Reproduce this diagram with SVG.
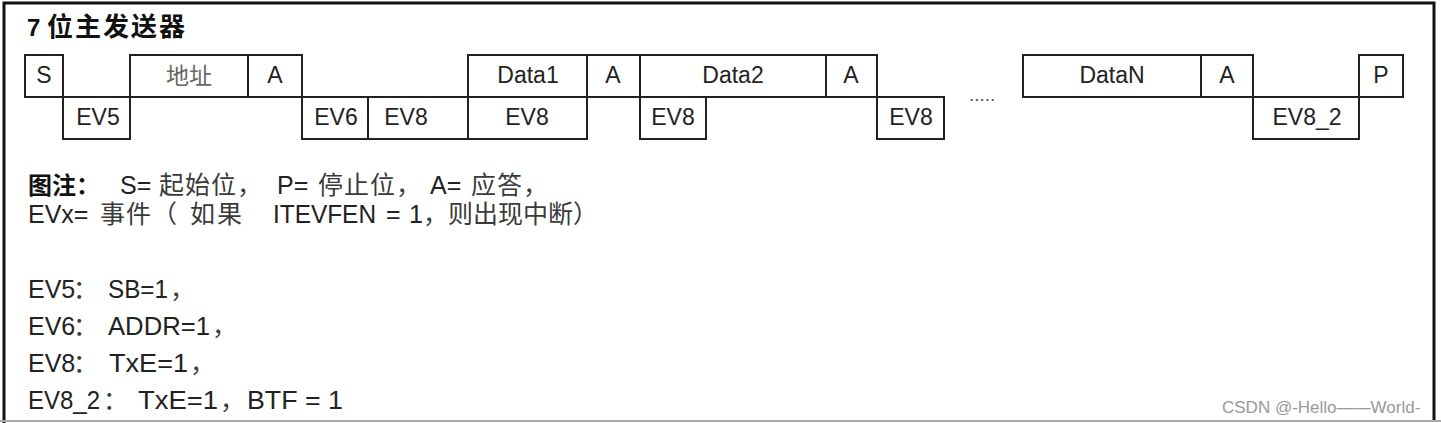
<svg xmlns="http://www.w3.org/2000/svg" width="1441" height="423" viewBox="0 0 1441 423">
<style>
.cell{fill:#fff;stroke:#222;stroke-width:2}
.t{font-family:"Liberation Sans",Arial,sans-serif;font-size:23px;fill:#222;text-anchor:middle}
.addr{font-family:"Liberation Sans","Noto Sans CJK SC",sans-serif;font-size:23px;fill:#666;text-anchor:middle}
.lg{font-family:"Liberation Sans",Arial,"Noto Sans CJK SC",sans-serif;font-size:25px;fill:#222}
.cj{font-family:"Liberation Sans","Noto Sans CJK SC",sans-serif;font-size:25px;fill:#3a3a3a}
</style>
<rect width="1441" height="423" fill="#fff"/>
<path d="M4,423 V3 H1434 V421" fill="none" stroke="#111" stroke-width="3"/>
<line x1="0" y1="421" x2="1441" y2="421" stroke="#aaa" stroke-width="2"/>
<text x="27" y="36" font-family="'Liberation Sans',Arial,'Noto Sans CJK SC',sans-serif" font-size="24" font-weight="bold" fill="#111">7 <tspan font-size="26" letter-spacing="2">位主发送器</tspan></text>

<g id="top-row">
<g id="n-S"><rect class="cell" x="25" y="55" width="38" height="42"/><text class="t" x="44" y="83">S</text></g>
<g id="n-addr"><rect class="cell" x="130" y="55" width="118" height="42"/><text class="addr" x="189" y="84">地址</text></g>
<g id="n-A1"><rect class="cell" x="248" y="55" width="54" height="42"/><text class="t" x="275" y="83">A</text></g>
<g id="n-data1"><rect class="cell" x="468" y="55" width="119" height="42"/><text class="t" x="528" y="83">Data1</text></g>
<g id="n-A2"><rect class="cell" x="587" y="55" width="53" height="42"/><text class="t" x="613" y="83">A</text></g>
<g id="n-data2"><rect class="cell" x="640" y="55" width="186" height="42"/><text class="t" x="733" y="83">Data2</text></g>
<g id="n-A3"><rect class="cell" x="826" y="55" width="51" height="42"/><text class="t" x="851" y="83">A</text></g>
<g id="n-dataN"><rect class="cell" x="1023" y="55" width="178" height="42"/><text class="t" x="1112" y="83">DataN</text></g>
<g id="n-A4"><rect class="cell" x="1201" y="55" width="52" height="42"/><text class="t" x="1227" y="83">A</text></g>
<g id="n-P"><rect class="cell" x="1359" y="55" width="44" height="42"/><text class="t" x="1381" y="83">P</text></g>
</g>
<g id="bottom-row">
<g id="n-ev5"><rect class="cell" x="63" y="97" width="67" height="42"/><text class="t" x="98" y="125">EV5</text></g>
<g id="n-ev6"><rect class="cell" x="302" y="97" width="66" height="42"/><text class="t" x="336" y="125">EV6</text></g>
<g id="n-ev8a"><rect class="cell" x="368" y="97" width="100" height="42"/><text class="t" x="406" y="125">EV8</text></g>
<g id="n-ev8b"><rect class="cell" x="468" y="97" width="119" height="42"/><text class="t" x="527" y="125">EV8</text></g>
<g id="n-ev8c"><rect class="cell" x="640" y="97" width="66" height="42"/><text class="t" x="673" y="125">EV8</text></g>
<g id="n-ev8d"><rect class="cell" x="877" y="97" width="67" height="42"/><text class="t" x="911" y="125">EV8</text></g>
<g id="n-ev82"><rect class="cell" x="1253" y="97" width="106" height="42"/><text class="t" x="1307" y="125">EV8_2</text></g>
</g>
<g id="connectors"></g>
<text x="969" y="101" font-family="'Liberation Sans',Arial,sans-serif" font-size="19" fill="#555">.....</text>

<g id="legend">
<text class="lg" y="194"><tspan x="28" font-weight="bold" font-size="24" fill="#111">图注：</tspan><tspan x="120">S=</tspan><tspan class="cj" x="159" letter-spacing="1">起始位，</tspan><tspan x="277">P=</tspan><tspan class="cj" x="318" letter-spacing="1">停止位，</tspan><tspan x="430">A=</tspan><tspan class="cj" x="471" letter-spacing="1">应答，</tspan></text>
<text class="lg" y="223"><tspan x="28">EVx=</tspan><tspan class="cj" x="100" letter-spacing="1">事件</tspan><tspan class="cj">（</tspan><tspan class="cj" x="190" letter-spacing="2">如果</tspan><tspan x="273" textLength="103" lengthAdjust="spacingAndGlyphs">ITEVFEN</tspan><tspan x="386">=</tspan><tspan x="409">1</tspan><tspan class="cj" x="423">，</tspan><tspan class="cj" x="448">则出现中断）</tspan></text>
<text class="lg" y="298"><tspan x="28">EV5</tspan><tspan class="cj" x="73">：</tspan><tspan x="108" textLength="60" lengthAdjust="spacingAndGlyphs">SB=1</tspan><tspan class="cj" x="170">，</tspan></text>
<text class="lg" y="335"><tspan x="28">EV6</tspan><tspan class="cj" x="73">：</tspan><tspan x="108" textLength="102" lengthAdjust="spacingAndGlyphs">ADDR=1</tspan><tspan class="cj" x="212">，</tspan></text>
<text class="lg" y="372"><tspan x="28">EV8</tspan><tspan class="cj" x="73">：</tspan><tspan x="109" textLength="79" lengthAdjust="spacingAndGlyphs">TxE=1</tspan><tspan class="cj" x="190">，</tspan></text>
<text class="lg" y="409"><tspan x="28" textLength="72" lengthAdjust="spacingAndGlyphs">EV8_2</tspan><tspan class="cj" x="103">：</tspan><tspan x="138" textLength="80" lengthAdjust="spacingAndGlyphs">TxE=1</tspan><tspan class="cj" x="220">，</tspan><tspan x="247" textLength="96" lengthAdjust="spacingAndGlyphs">BTF = 1</tspan></text>
</g>
<text x="1222" y="413" font-family="'Liberation Sans',Arial,sans-serif" font-size="17" fill="#999">CSDN @-Hello——World-</text>
</svg>
